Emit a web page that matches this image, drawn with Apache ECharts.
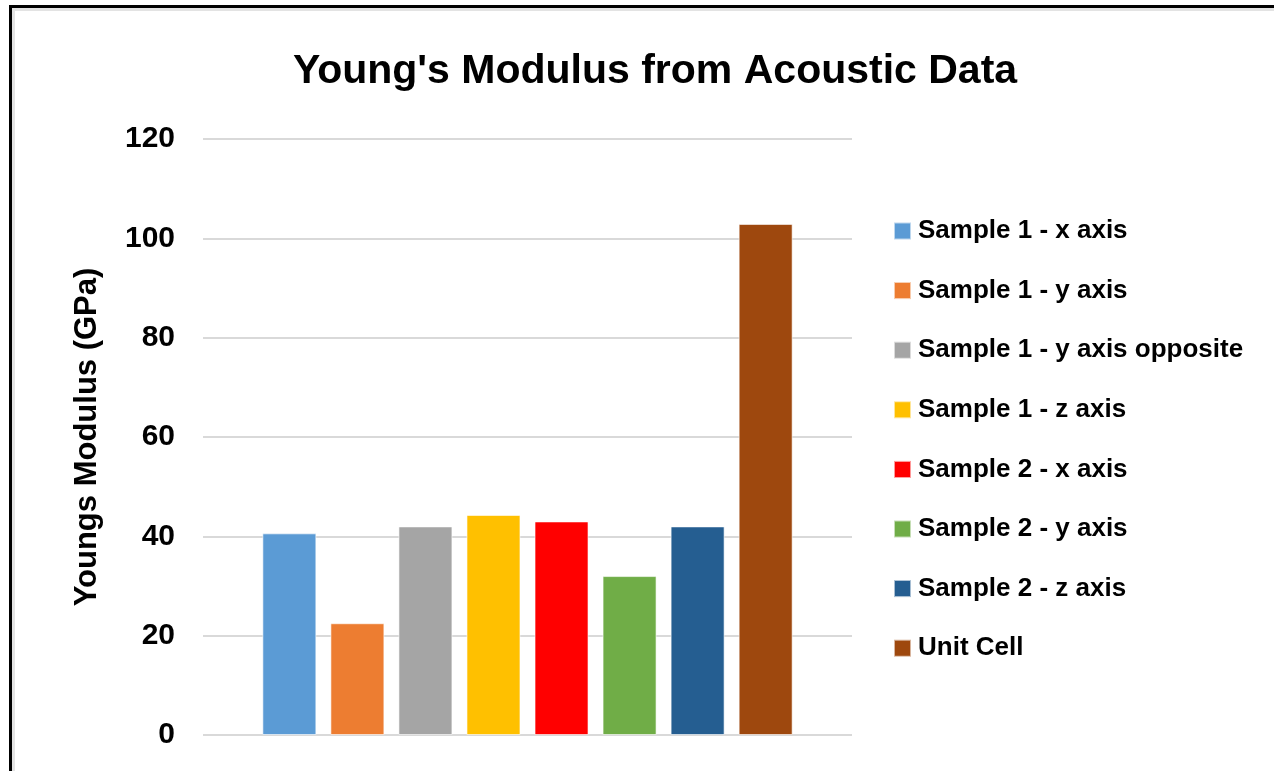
<!DOCTYPE html>
<html>
<head>
    <meta charset="UTF-8">
    <title>Young's Modulus from Acoustic Data</title>
    <script src="https://cdn.jsdelivr.net/npm/echarts@6/dist/echarts.min.js"></script>
    <style>
        html, body { margin: 0; padding: 0; background: #fff; overflow: hidden; }
        #chart { position: absolute; left: 0; top: 0; width: 1274px; height: 771px; }
        #frame {
            position: absolute; left: 9px; top: 5px; width: 1280px; height: 800px;
            border-left: 3px solid #000; border-top: 3px solid #000;
            box-shadow: inset 3px 3px 0 #e3e3e3; pointer-events: none;
        }
    </style>
</head>
<body>
    <div id="chart"></div>
    <div id="frame"></div>
    <script>
        var seriesNames = [
            'Sample 1 - x axis',
            'Sample 1 - y axis',
            'Sample 1 - y axis opposite',
            'Sample 1 - z axis',
            'Sample 2 - x axis',
            'Sample 2 - y axis',
            'Sample 2 - z axis',
            'Unit Cell'
        ];
        var modulusValues = [40.6, 22.5, 42.0, 44.3, 43.0, 32.0, 42.0, 102.9];
        var barColors = ['#5b9bd5', '#ed7d31', '#a5a5a5', '#ffc000', '#ff0000', '#70ad47', '#255e91', '#9e480e'];
        var yTicks = [0, 20, 40, 60, 80, 100, 120];

        var font = 'Liberation Sans';
        var chart = echarts.init(document.getElementById('chart'), null, {renderer: 'canvas'});

        var series = seriesNames.map(function (name, i) {
            return {
                name: name,
                type: 'bar',
                data: [modulusValues[i]],
                barWidth: 54,
                barGap: '26%',
                itemStyle: { color: barColors[i], borderColor: 'rgba(255,255,255,0.6)', borderWidth: 1 }
            };
        });

        chart.setOption({
            animation: false,
            color: barColors,
            title: {
                text: "Young's Modulus from Acoustic Data",
                left: 650, top: 46, textAlign: 'center',
                textStyle: { fontFamily: font, fontWeight: 'bold', fontSize: 41, color: '#000' }
            },
            legend: {
                orient: 'vertical',
                left: 893, top: 218,
                padding: 0,
                itemWidth: 17, itemHeight: 17, itemGap: 33.6,
                icon: 'rect',
                textStyle: { fontFamily: font, fontWeight: 'bold', fontSize: 26, color: '#000', padding: [0, 0, 0, 2] },
                data: seriesNames
            },
            grid: { left: 203, right: 422, top: 139, bottom: 36 },
            xAxis: {
                type: 'category',
                data: [''],
                axisLine: { show: false },
                axisTick: { show: false },
                axisLabel: { show: false }
            },
            yAxis: {
                type: 'value',
                min: yTicks[0],
                max: yTicks[yTicks.length - 1],
                interval: 20,
                name: 'Youngs Modulus (GPa)',
                nameLocation: 'middle',
                nameGap: 100,
                nameTextStyle: { fontFamily: font, fontWeight: 'bold', fontSize: 31, color: '#000' },
                axisLine: { show: false },
                axisTick: { show: false },
                axisLabel: { fontFamily: font, fontWeight: 'bold', fontSize: 30, color: '#000', margin: 28 },
                splitLine: { lineStyle: { color: '#d9d9d9', width: 2 } }
            },
            series: series
        });
    </script>
</body>
</html>
